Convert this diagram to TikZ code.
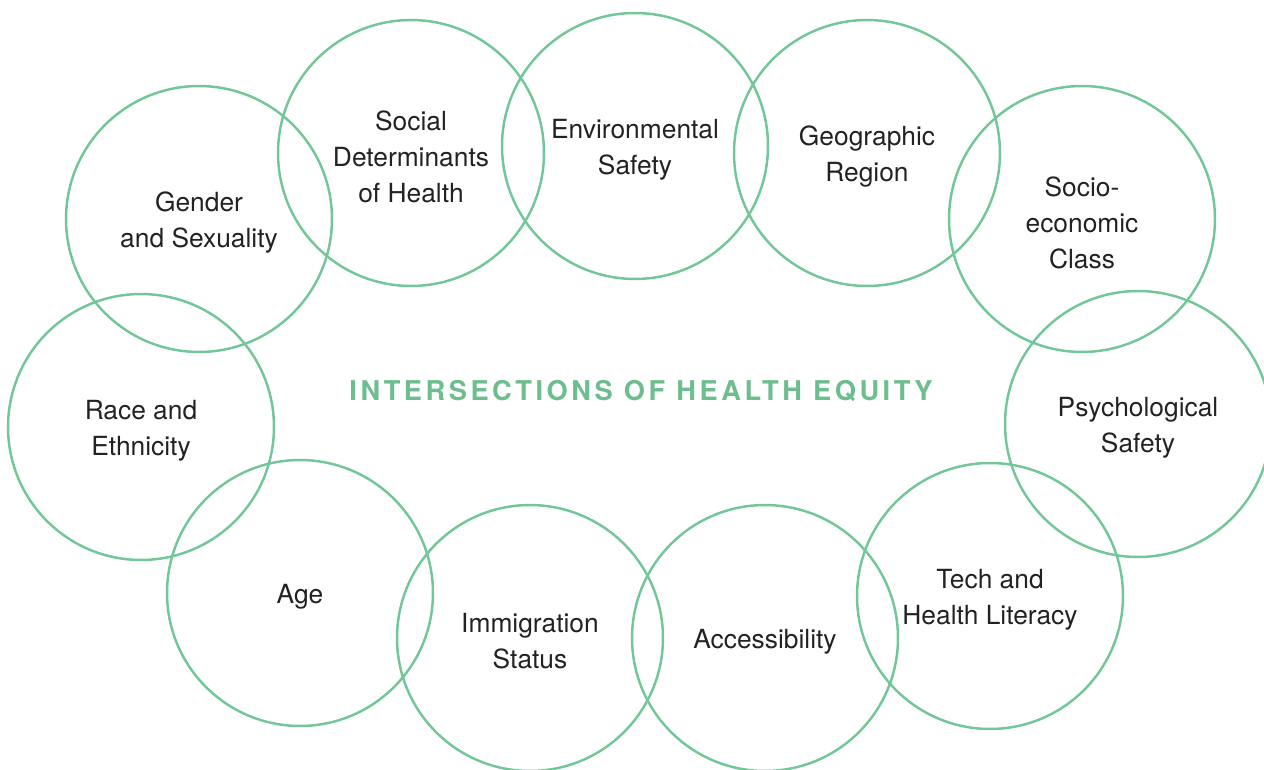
\documentclass[tikz,border=0pt]{standalone}
\usepackage{fontspec}
\setmainfont{TeX Gyre Heros}
\newfontfamily\titlefont[LetterSpace=13]{TeX Gyre Heros}
\usepackage{xcolor}
\usepackage{tikz}
\usetikzlibrary{positioning}

\definecolor{ringgreen}{HTML}{72C698}
\definecolor{titlegreen}{HTML}{6DBD8F}
\definecolor{labelgray}{HTML}{222222}

\begin{document}
\begin{tikzpicture}[
    x=0.02cm, y=-0.02cm,
    bubble/.style = {circle, draw=ringgreen, line width=1.4pt, minimum size=5.32cm, inner sep=0pt},
    tag/.style = {align=center, text=labelgray, yshift=-0.07cm, font=\fontsize{15}{20.5}\selectfont},
    heading/.style = {text=titlegreen, font=\titlefont\bfseries\fontsize{15.5}{18}\selectfont}
]
\useasboundingbox (0,0) rectangle (1264,770);

% Top arc
\node [bubble, label={[tag]center:{Gender\\and Sexuality}}] (gender) at (199,219) {};
\node [bubble, label={[tag]center:{Social\\Determinants\\of Health}}] (social) at (411,153) {};
\node [bubble, label={[tag]center:{Environmental\\Safety}}] (envir) at (635,146) {};
\node [bubble, label={[tag]center:{Geographic\\Region}}] (geo) at (867,153) {};
\node [bubble, label={[tag]center:{Socio-\\economic\\Class}}] (socio) at (1082,219) {};

% Right side
\node [bubble, label={[tag]center:{Psychological\\Safety}}] (psych) at (1138,424) {};

% Bottom arc
\node [bubble, label={[tag]center:{Tech and\\Health Literacy}}] (tech) at (990,596) {};
\node [bubble, label={[tag]center:{Accessibility}}] (access) at (765,638) {};
\node [bubble, label={[tag]center:{Immigration\\Status}}] (immig) at (530,638) {};
\node [bubble, label={[tag]center:{Age}}] (age) at (300,593) {};

% Left side
\node [bubble, label={[tag]center:{Race and\\Ethnicity}}] (race) at (141,427) {};

% Centre title
\node [heading] (title) at (641,391) {INTERSECTIONS OF HEALTH EQUITY};

\end{tikzpicture}
\end{document}
